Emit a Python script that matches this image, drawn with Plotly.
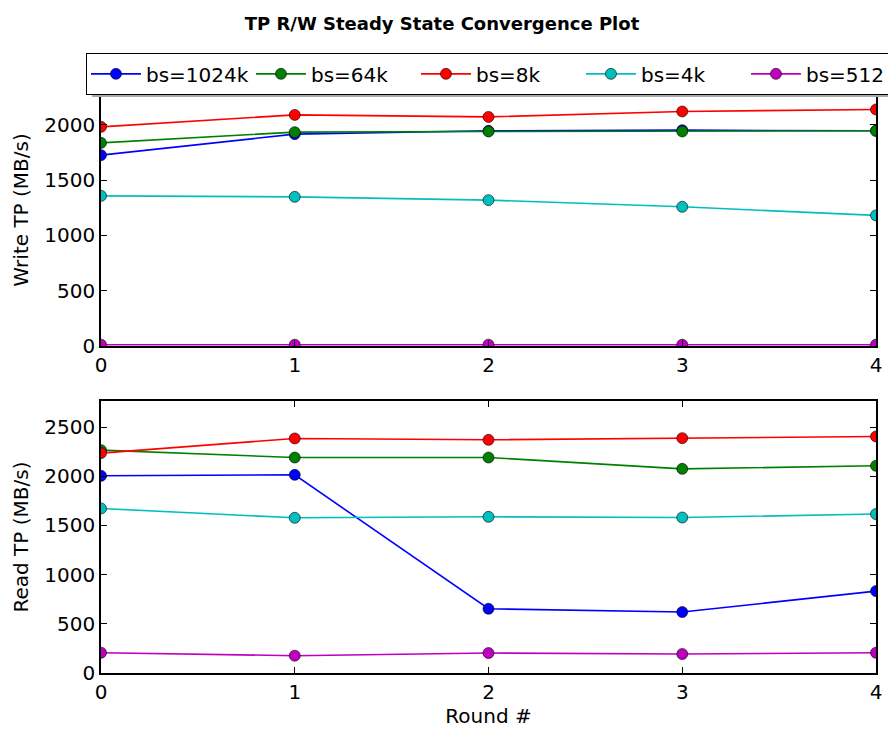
import plotly.graph_objects as go

rounds = [0, 1, 2, 3, 4]
series_names = ["bs=1024k", "bs=64k", "bs=8k", "bs=4k", "bs=512"]
series_colors = ["#0000FF", "#008000", "#FF0000", "#00BFBF", "#BF00BF"]

write_1024k = [1726, 1916, 1946, 1952, 1946]
write_64k = [1837, 1934, 1940, 1940, 1946]
write_8k = [1982, 2090, 2072, 2121, 2139]
write_4k = [1358, 1349, 1319, 1259, 1181]
write_512 = [12, 12, 12, 12, 12]

read_1024k = [2005, 2015, 653, 620, 833]
read_64k = [2266, 2191, 2191, 2076, 2107]
read_8k = [2236, 2385, 2371, 2388, 2405]
read_4k = [1673, 1578, 1588, 1581, 1616]
read_512 = [206, 176, 203, 193, 206]

write_series = [write_1024k, write_64k, write_8k, write_4k, write_512]
read_series = [read_1024k, read_64k, read_8k, read_4k, read_512]

FONT = "DejaVu Sans"
FS = 20
fig = go.Figure()

for name, col, w, r in zip(series_names, series_colors, write_series, read_series):
    style = dict(mode="lines+markers", line=dict(color=col, width=1.6),
                 marker=dict(color=col, size=11, line=dict(color="black", width=0.6)))
    fig.add_trace(go.Scatter(x=rounds, y=w, name=name, xaxis="x", yaxis="y",
                             legendgroup=name, **style))
    fig.add_trace(go.Scatter(x=rounds, y=r, name=name, xaxis="x2", yaxis="y2",
                             legendgroup=name, showlegend=False, **style))

ymax_w = max(max(s) for s in write_series) * 1.15
ymax_r = max(max(s) for s in read_series) * 1.15

axis_common = dict(showgrid=False, zeroline=False, showline=True, mirror="ticks",
                   linecolor="black", linewidth=1.5, ticks="inside", ticklen=6,
                   tickcolor="black", tickwidth=1, automargin=False,
                   tickfont=dict(family=FONT, size=FS, color="black"))

fig.update_layout(
    width=888, height=729,
    margin=dict(l=101, r=12, t=74, b=56, autoexpand=False),
    paper_bgcolor="white", plot_bgcolor="white",
    font=dict(family=FONT, size=FS, color="black"),
    title=dict(text="<b>TP R/W Steady State Convergence Plot</b>", xref="paper", x=0.44,
               xanchor="center", yref="container", y=0.968, yanchor="middle",
               font=dict(family=FONT, size=18, color="black")),
    xaxis=dict(domain=[0, 1], range=[0, 4], tickvals=rounds, anchor="y", **axis_common),
    yaxis=dict(domain=[0.5459, 1], range=[0, ymax_w], dtick=500, anchor="x",
               title=dict(text="Write TP (MB/s)", font=dict(family=FONT, size=FS), standoff=10),
               **axis_common),
    xaxis2=dict(domain=[0, 1], range=[0, 4], tickvals=rounds, anchor="y2",
                title=dict(text="Round #", font=dict(family=FONT, size=FS), standoff=6),
                **axis_common),
    yaxis2=dict(domain=[0, 0.4541], range=[0, ymax_r], dtick=500, anchor="x2",
                title=dict(text="Read TP (MB/s)", font=dict(family=FONT, size=FS), standoff=10),
                **axis_common),
    legend=dict(orientation="h", x=-0.0194, xanchor="left", y=1.035, yanchor="top",
                bgcolor="white", bordercolor="black", borderwidth=1.3,
                font=dict(family=FONT, size=FS, color="black"),
                itemwidth=50, entrywidth=100, entrywidthmode="pixels", tracegroupgap=0),
    shapes=[dict(type="rect", xref="paper", yref="paper",
                 x0=-0.0116, x1=1.02, y0=0.9616, y1=0.9733,
                 fillcolor="#A8A8A8", line=dict(width=0), layer="above")],
)

fig.write_html("out.html", config={"displayModeBar": False},
               post_script="document.body.style.margin='0px';document.body.style.overflow='hidden';")
